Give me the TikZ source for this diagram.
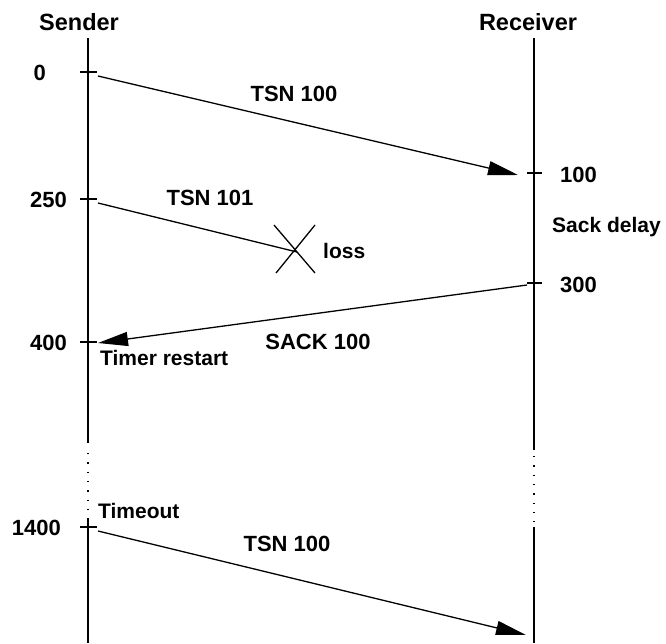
\documentclass[tikz,border=0pt]{standalone}
\usepackage{fontspec}
\setmainfont{Liberation Sans}
\usetikzlibrary{arrows.meta}
\begin{document}
\begin{tikzpicture}[x=1pt,y=-1pt,
  lifeline/.style={line width=1.3pt},
  dotline/.style={line width=1.3pt, dash pattern=on 1.3pt off 8pt},
  tick/.style={line width=1.2pt},
  msg/.style={line width=1.3pt, -{Triangle[length=30pt,width=14pt]}},
  lost/.style={line width=1.3pt},
  hdr/.style={font=\bfseries\fontsize{23.5}{28}\selectfont, inner sep=0pt, anchor=base},
  lbl/.style={font=\bfseries\fontsize{22}{26}\selectfont, inner sep=0pt, anchor=base},
  sml/.style={font=\bfseries\fontsize{21}{25}\selectfont, inner sep=0pt, anchor=base}]
\useasboundingbox (0,0) rectangle (666,643);

% headers
\node[hdr] (snd) at (79,30) {Sender};
\node[hdr] (rcv) at (528,30) {Receiver};

% lifelines
\coordinate (s0) at (88,38);
\coordinate (s1) at (88,443);
\coordinate (s2) at (88,453);
\coordinate (s3) at (88,514);
\coordinate (s4) at (88,518);
\coordinate (s5) at (88,643);
\coordinate (r0) at (534,38);
\coordinate (r1) at (534,450);
\coordinate (r2) at (534,456);
\coordinate (r3) at (534,522);
\coordinate (r4) at (534,527);
\coordinate (r5) at (534,643);
\draw[lifeline] (s0) -- (s1);
\draw[dotline] (s2) -- (s3);
\draw[lifeline] (s4) -- (s5);
\draw[lifeline] (r0) -- (r1);
\draw[dotline] (r2) -- (r3);
\draw[lifeline] (r4) -- (r5);

% ticks
\draw[tick] (80,72) -- (97,72);
\draw[tick] (80,199) -- (97,199);
\draw[tick] (80,342) -- (97,342);
\draw[tick] (80,527) -- (97,527);
\draw[tick] (527,173) -- (542,173);
\draw[tick] (527,283) -- (542,283);

% time labels
\node[lbl, anchor=base east] (t0) at (46,80) {0};
\node[lbl, anchor=base east] (t250) at (67,207) {250};
\node[lbl, anchor=base east] (t400) at (67,350) {400};
\node[lbl, anchor=base east] (t1400) at (61,535) {1400};
\node[lbl, anchor=base west] (t100) at (560,182) {100};
\node[lbl, anchor=base west] (t300) at (560,292) {300};
\node[sml, anchor=base west] (sd) at (552,232) {Sack delay};

% messages
\coordinate (m1a) at (98,76);
\coordinate (m1b) at (518,175);
\draw[msg] (m1a) -- (m1b);
\node[lbl] (l1) at (294,101) {TSN 100};

\coordinate (m2a) at (98,203);
\coordinate (m2b) at (297,252);
\draw[lost] (m2a) -- (m2b);
\coordinate (xa) at (274,225);
\coordinate (xb) at (315,273);
\coordinate (xc) at (315,225);
\coordinate (xd) at (276,273);
\draw[lost] (xa) -- (xb);
\draw[lost] (xc) -- (xd);
\node[lbl] (l2) at (210,205) {TSN 101};
\node[sml, anchor=base west] (loss) at (323,258) {loss};

\coordinate (m3a) at (527,285);
\coordinate (m3b) at (98,343);
\draw[msg] (m3a) -- (m3b);
\node[lbl] (l3) at (318,349) {SACK 100};
\node[sml, anchor=base west] (tr) at (100,365) {Timer restart};

\node[sml, anchor=base west] (to) at (98,518) {Timeout};
\coordinate (m4a) at (98,531);
\coordinate (m4b) at (526,635);
\draw[msg] (m4a) -- (m4b);
\node[lbl] (l4) at (287,551) {TSN 100};
\end{tikzpicture}
\end{document}
